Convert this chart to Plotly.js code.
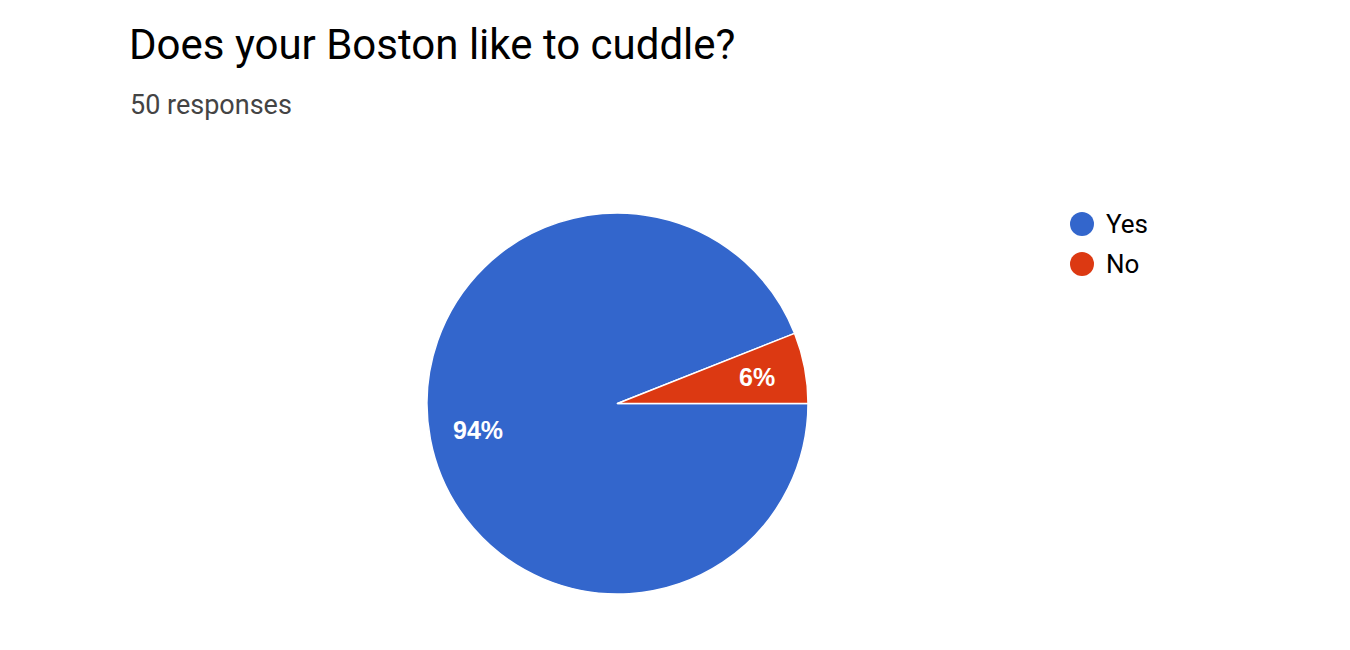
<!DOCTYPE html>
<html>
<head>
<meta charset="utf-8">
<script src="https://cdn.plot.ly/plotly-3.0.1.min.js"></script>
<style>html,body{margin:0;padding:0;background:#fff;}#chart{width:1350px;height:650px;}</style>
</head>
<body>
<div id="chart"></div>
<script>
const chartTitle = "Does your Boston like to cuddle?";
const subtitle = "50 responses";
const labels = ["Yes", "No"];
const values = [47, 3];
const colors = ["#3366CC", "#DC3912"];

const W = 1350, H = 650;
const cx = 617.5, cy = 403.5, R = 190.5;

const legendShapes = [];
const legendAnnots = [];
labels.forEach((lab, i) => {
  const ly = 224 + i * 40;
  legendShapes.push({
    type: "circle", xref: "paper", yref: "paper",
    x0: 1070 / W, x1: 1094 / W,
    y0: 1 - (ly + 12) / H, y1: 1 - (ly - 12) / H,
    fillcolor: colors[i], line: {color: colors[i], width: 0}
  });
  legendAnnots.push({
    xref: "paper", yref: "paper", x: 1104 / W, y: 1 - ly / H,
    xanchor: "left", yanchor: "middle", showarrow: false,
    text: lab, font: {family: "Roboto, Arial, sans-serif", size: 26, color: "#000"}
  });
});

// percentage labels placed at each slice's mid-angle (start at 3 o'clock, clockwise)
const total = values.reduce((a, b) => a + b, 0);
const pctAnnots = [];
let cum = 0;
values.forEach((v, i) => {
  const mid = (cum + v / 2) / total * 2 * Math.PI;
  cum += v;
  const r = 0.745 * R;
  const px = cx + r * Math.cos(mid);
  const py = cy + r * Math.sin(mid);
  pctAnnots.push({
    xref: "paper", yref: "paper", x: px / W, y: 1 - py / H,
    xanchor: "center", yanchor: "middle", showarrow: false,
    text: Math.round(v / total * 100) + "%",
    font: {family: "Liberation Sans, Arial, sans-serif", size: 25, color: "#fff", weight: "bold"}
  });
});

const data = [{
  type: "pie",
  labels: labels,
  values: values,
  sort: false,
  direction: "clockwise",
  rotation: 90,
  marker: {colors: colors, line: {color: "#fff", width: 1.5}},
  textinfo: "none",
  hoverinfo: "label+percent",
  showlegend: false,
  domain: {x: [(cx - R) / W, (cx + R) / W], y: [1 - (cy + R) / H, 1 - (cy - R) / H]}
}];

const layout = {
  width: W, height: H,
  margin: {l: 0, r: 0, t: 0, b: 0},
  paper_bgcolor: "#fff",
  showlegend: false,
  shapes: legendShapes,
  annotations: [
    {xref: "paper", yref: "paper", x: 127 / W, y: 1 - 45 / H, xanchor: "left", yanchor: "middle",
     showarrow: false, text: chartTitle, font: {family: "Roboto, Arial, sans-serif", size: 42, color: "#000"}},
    {xref: "paper", yref: "paper", x: 128 / W, y: 1 - 105 / H, xanchor: "left", yanchor: "middle",
     showarrow: false, text: subtitle, font: {family: "Roboto, Arial, sans-serif", size: 27, color: "#444"}}
  ].concat(legendAnnots, pctAnnots)
};

Plotly.newPlot("chart", data, layout, {displayModeBar: false});
</script>
</body>
</html>
